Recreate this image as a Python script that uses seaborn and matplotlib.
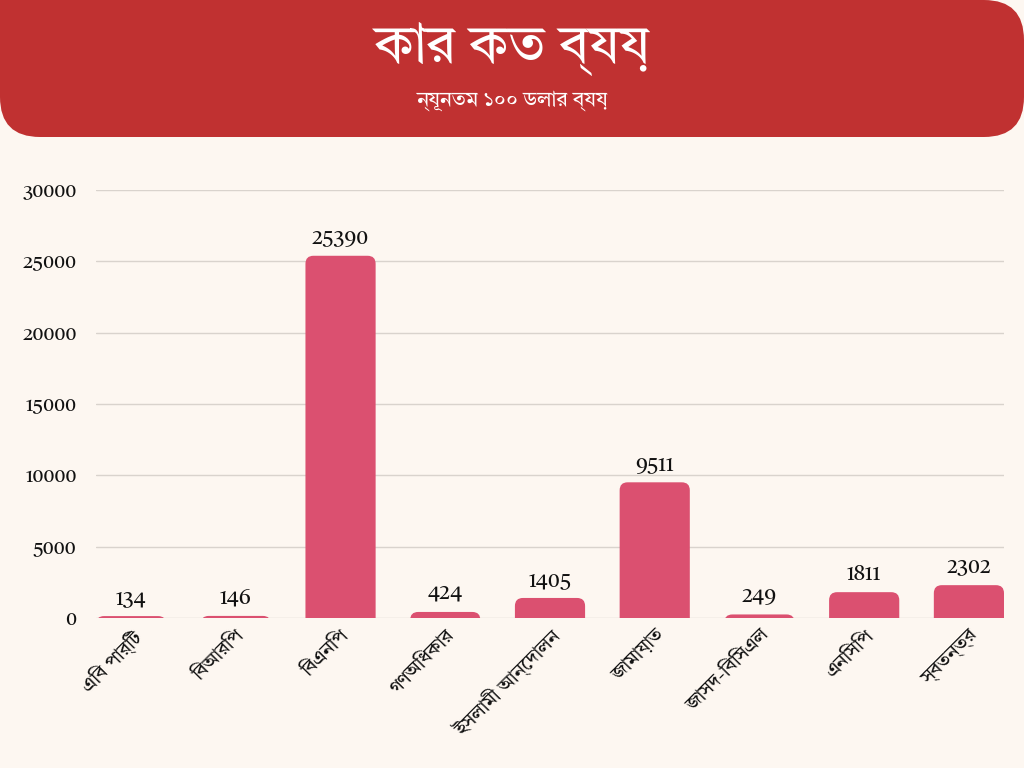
import matplotlib
matplotlib.use("Agg")
import matplotlib.pyplot as plt
from matplotlib.patches import FancyBboxPatch, Rectangle
import seaborn as sns
import pandas as pd

# data
parties = ["এবি পার্টি", "বিআরপি", "বিএনপি", "গণঅধিকার", "ইসলামী আন্দোলন",
           "জামায়াত", "জাসদ-বিসিএল", "এনসিপি", "স্বতন্ত্র"]
spend = [134, 146, 25390, 424, 1405, 9511, 249, 1811, 2302]
yticks = [0, 5000, 10000, 15000, 20000, 25000, 30000]

title = "কার কত ব্যয়"
subtitle = "ন্যূনতম ১০০ ডলার ব্যয়"

BG = "#fdf7f1"
RED = "#c03131"
BAR = "#db5070"


def visual(s):
    # matplotlib does no Indic shaping: put pre-base vowel signs before their consonant
    out = []
    for ch in s:
        if ch in "িেৈ" and out:
            out.insert(len(out) - 1, ch)
        elif ch == "ো" and out:
            out.insert(len(out) - 1, "ে")
            out.append("া")
        elif ch == "ৌ" and out:
            out.insert(len(out) - 1, "ে")
            out.append("ৗ")
        else:
            out.append(ch)
    return "".join(out)


sns.set_theme(style="white")
bn_fonts = ["Tiro Bangla", "Noto Serif Bengali", "Noto Sans Bengali", "DejaVu Sans"]
num_font = ["Tiro Bangla", "Liberation Serif", "DejaVu Serif"]
plt.rcParams["font.family"] = bn_fonts

df = pd.DataFrame({"party": parties, "spend": spend})

fig = plt.figure(figsize=(10.24, 7.68), dpi=100, facecolor=BG)
ax = fig.add_axes([96 / 1024, 150 / 768, 908 / 1024, 428 / 768])
ax.set_facecolor(BG)

sns.barplot(data=df, x="party", y="spend", color=BAR, width=0.67, ax=ax,
            saturation=1, errorbar=None)

ax.set_xlim(-0.335, 8.335)
ax.set_ylim(0, 30000)
ax.set_yticks(yticks)
ax.set_yticklabels([str(t) for t in yticks], fontsize=14, family=num_font,
                   color="#111111")
ax.grid(axis="y", color="#d9d3cd", linewidth=1)
ax.set_axisbelow(True)
for s in ax.spines.values():
    s.set_visible(False)
ax.tick_params(axis="y", length=0, pad=14)
ax.tick_params(axis="x", length=0, pad=6)
ax.set_xlabel("")
ax.set_ylabel("")
ax.set_xticks(range(len(parties)))
ax.set_xticklabels([visual(p) for p in parties], rotation=45, ha="right",
                   rotation_mode="anchor", fontsize=14, family=bn_fonts,
                   color="#111111")

# rounded tops on bars
ppx = 908 / 8.67
ppy = 428 / 30000
r = 8
aspect = (r / ppy) / (r / ppx)
for p in list(ax.patches):
    x, w, h = p.get_x(), p.get_width(), p.get_height()
    p.set_visible(False)
    fb = FancyBboxPatch((x, -20 / ppy), w, h + 20 / ppy,
                        boxstyle=f"round,pad=0,rounding_size={r / ppx}",
                        mutation_aspect=aspect, facecolor=BAR, edgecolor="none",
                        zorder=2)
    ax.add_patch(fb)

for i, v in enumerate(spend):
    ax.text(i, v + 7 / ppy, str(v), ha="center", va="bottom", fontsize=15,
            family=num_font, color="#111111")

# header band
hdr = FancyBboxPatch((0, 631), 1024, 137, boxstyle="round,pad=0,rounding_size=40",
                     transform=None, facecolor=RED, edgecolor="none")
fig.patches.append(hdr)
fig.patches.append(Rectangle((0, 700), 60, 68, transform=None, facecolor=RED,
                             edgecolor="none"))
fig.text(0.5, 1 - 48 / 768, visual(title), ha="center", va="center", fontsize=39,
         color="white", family=bn_fonts)
fig.text(0.5, 1 - 101 / 768, visual(subtitle), ha="center", va="center",
         fontsize=15, color="white", family=bn_fonts)

fig.savefig("out.png", dpi=100, facecolor=BG)
